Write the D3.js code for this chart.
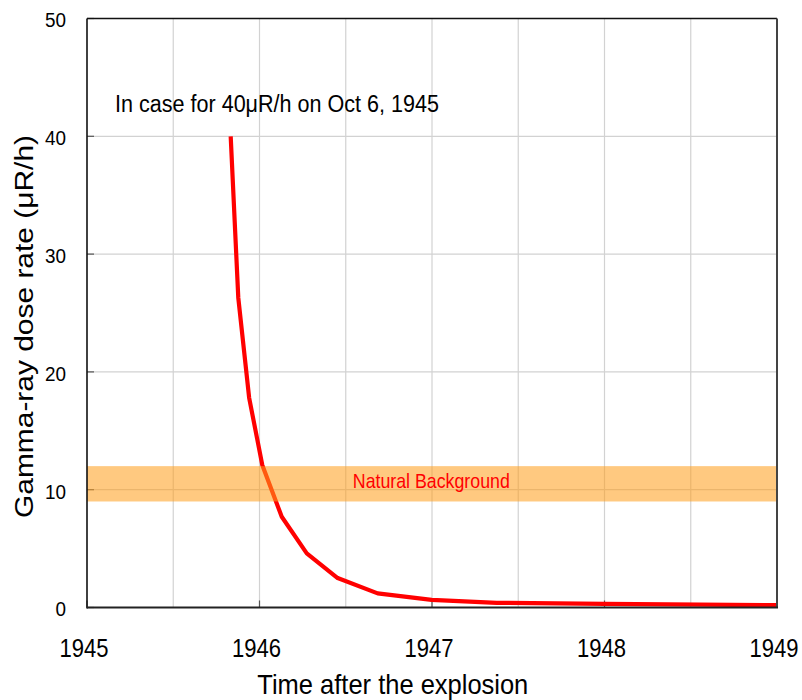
<!DOCTYPE html>
<html>
<head>
<meta charset="utf-8">
<script src="https://cdn.jsdelivr.net/npm/d3@7"></script>
<style>
  html, body { margin: 0; padding: 0; background: #fff; }
  svg { display: block; font-family: "Liberation Sans", Arial, sans-serif; }
</style>
</head>
<body>
<svg id="chart" width="802" height="700"></svg>
<script>
// ---- data ----
const years = [1945.833, 1945.877, 1945.94, 1946.016, 1946.129, 1946.274, 1946.453, 1946.685, 1946.998, 1947.375, 1948.0, 1949.0];
const doseRates = [40, 26.3, 17.8, 12.1, 7.7, 4.6, 2.5, 1.2, 0.65, 0.4, 0.3, 0.2];
const xTickValues = [1945, 1946, 1947, 1948, 1949];
const xGridValues = [1945.5, 1946, 1946.5, 1947, 1947.5, 1948, 1948.5];
const yTickValues = [0, 10, 20, 30, 40, 50];
const backgroundBand = [9, 12];
const titleText = "In case for 40μR/h on Oct 6, 1945";
const xLabelText = "Time after the explosion";
const yLabelText = "Gamma-ray dose rate (μR/h)";
const bandLabelText = "Natural Background";

// ---- layout ----
const svg = d3.select("#chart");
const pLeft = 87, pRight = 777, pTop = 18.5, pBottom = 607.5;
const x = d3.scaleLinear().domain([1945, 1949]).range([pLeft, pRight]);
const y = d3.scaleLinear().domain([0, 50]).range([pBottom, pTop]);

// grid
svg.append("g").selectAll("line").data(xGridValues).join("line")
  .attr("x1", d => x(d)).attr("x2", d => x(d))
  .attr("y1", pTop).attr("y2", pBottom)
  .attr("stroke", "#d2d2d2").attr("stroke-width", 1.2);
svg.append("g").selectAll("line").data(yTickValues.filter(d => d > 0 && d < 50)).join("line")
  .attr("x1", pLeft).attr("x2", pRight)
  .attr("y1", d => y(d)).attr("y2", d => y(d))
  .attr("stroke", "#d2d2d2").attr("stroke-width", 1.2);

// inner tick marks
svg.append("g").selectAll("line").data(yTickValues).join("line")
  .attr("x1", pLeft).attr("x2", pLeft + 7)
  .attr("y1", d => y(d)).attr("y2", d => y(d))
  .attr("stroke", "#555").attr("stroke-width", 1.2);
svg.append("g").selectAll("line").data(xTickValues).join("line")
  .attr("x1", d => x(d)).attr("x2", d => x(d))
  .attr("y1", pBottom).attr("y2", pBottom - 7)
  .attr("stroke", "#555").attr("stroke-width", 1.2);

// data line
const line = d3.line().x((d, i) => x(years[i])).y(d => y(d));
svg.append("path").datum(doseRates)
  .attr("d", line)
  .attr("fill", "none")
  .attr("stroke", "#ff0000")
  .attr("stroke-width", 4.2)
  .attr("stroke-linejoin", "round");

// natural background band (semi-transparent, on top)
svg.append("rect")
  .attr("x", pLeft).attr("width", pRight - pLeft)
  .attr("y", y(backgroundBand[1]))
  .attr("height", y(backgroundBand[0]) - y(backgroundBand[1]))
  .attr("fill", "rgb(255,159,28)")
  .attr("fill-opacity", 0.56);

// frame
svg.append("line").attr("x1", pLeft).attr("x2", pRight).attr("y1", pTop).attr("y2", pTop)
  .attr("stroke", "#111").attr("stroke-width", 1.6);
svg.append("line").attr("x1", pRight).attr("x2", pRight).attr("y1", pTop).attr("y2", pBottom)
  .attr("stroke", "#444").attr("stroke-width", 2);
svg.append("line").attr("x1", pLeft).attr("x2", pLeft).attr("y1", pTop).attr("y2", pBottom + 1)
  .attr("stroke", "#111").attr("stroke-width", 1.6);
svg.append("line").attr("x1", pLeft).attr("x2", pRight + 1).attr("y1", pBottom).attr("y2", pBottom)
  .attr("stroke", "#222").attr("stroke-width", 2);

// axes labels via d3 axes
const xAxis = d3.axisBottom(x).tickValues(xTickValues).tickFormat(d3.format("d")).tickSize(0);
const gx = svg.append("g").attr("transform", `translate(0,${pBottom})`).call(xAxis);
gx.select(".domain").remove();
gx.selectAll("text")
  .attr("y", 0).attr("dy", 0)
  .attr("font-size", 25.5)
  .attr("font-family", "Liberation Sans, Arial, sans-serif")
  .attr("fill", "#000")
  .attr("transform", "translate(-3.5,49.5) scale(0.865,1)");

const yAxis = d3.axisLeft(y).tickValues(yTickValues).tickFormat(d3.format("d")).tickSize(0);
const gy = svg.append("g").attr("transform", `translate(${pLeft},0)`).call(yAxis);
gy.select(".domain").remove();
gy.selectAll("text")
  .attr("x", 0).attr("dy", "0.35em")
  .attr("font-size", 21)
  .attr("font-family", "Liberation Sans, Arial, sans-serif")
  .attr("fill", "#000")
  .attr("text-anchor", "end")
  .attr("transform", "translate(-21,1) scale(0.9,1)");

// title
svg.append("text")
  .attr("x", 115).attr("y", 112)
  .attr("font-size", 23.5)
  .attr("textLength", 324).attr("lengthAdjust", "spacingAndGlyphs")
  .attr("fill", "#000")
  .text(titleText);

// band label
svg.append("text")
  .attr("x", 431.3).attr("y", 488.3)
  .attr("text-anchor", "middle")
  .attr("font-size", 21)
  .attr("textLength", 157).attr("lengthAdjust", "spacingAndGlyphs")
  .attr("fill", "#ff0000")
  .text(bandLabelText);

// x label
svg.append("text")
  .attr("x", 392.8).attr("y", 693.5)
  .attr("text-anchor", "middle")
  .attr("font-size", 28.5)
  .attr("textLength", 271).attr("lengthAdjust", "spacingAndGlyphs")
  .attr("fill", "#000")
  .text(xLabelText);

// y label
svg.append("text")
  .attr("transform", "translate(33,326.5) scale(0.87,1) rotate(-90)")
  .attr("text-anchor", "middle")
  .attr("font-size", 29.5)
  .attr("textLength", 383).attr("lengthAdjust", "spacingAndGlyphs")
  .attr("fill", "#000")
  .text(yLabelText);
</script>
</body>
</html>
